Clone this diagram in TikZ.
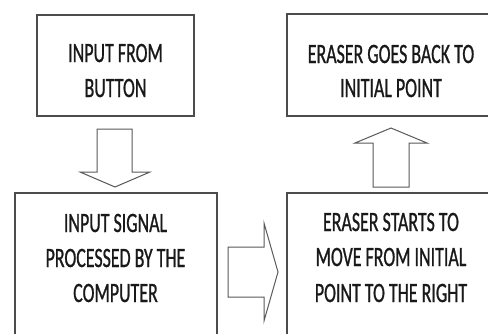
\documentclass[tikz,border=0pt]{standalone}
\usepackage{fontspec}
\setmainfont{Carlito}[FakeStretch=0.64,FakeBold=0.8]
\begin{document}
\begin{tikzpicture}[x=1pt,y=-1pt,
  box/.style={draw=black!70,line width=1.4pt,fill=white,inner sep=0pt},
  blockarrow/.style={draw=black!65,line width=1pt,fill=white,line join=miter},
  txt/.style={anchor=base,inner sep=0pt,text=black!90,font=\fontsize{28}{35}\selectfont}]
\useasboundingbox (0,0) rectangle (488,333);
\clip (0,0) rectangle (488,333);
\fill[white] (0,0) rectangle (488,333);
% boxes
\node[box,minimum width=157pt,minimum height=101pt] (b1) at (115.5,65.5) {};
\node[box,minimum width=202pt,minimum height=160pt] (b2) at (116,273) {};
\node[box,minimum width=230pt,minimum height=102pt] (b3) at (402,65) {};
\node[box,minimum width=230pt,minimum height=160pt] (b4) at (402,273) {};
% texts
\node[txt] (t1a) at (115.5,62) {INPUT FROM};
\node[txt] (t1b) at (115.5,97) {BUTTON};
\node[txt] (t2a) at (115.5,232) {INPUT SIGNAL};
\node[txt] (t2b) at (115.5,267) {PROCESSED BY THE};
\node[txt] (t2c) at (115.5,302) {COMPUTER};
\node[txt] (t3a) at (391,63) {ERASER GOES BACK TO};
\node[txt] (t3b) at (391,97) {INITIAL POINT};
\node[txt] (t4a) at (391,231) {ERASER STARTS TO};
\node[txt] (t4b) at (391,266) {MOVE FROM INITIAL};
\node[txt] (t4c) at (391,302) {POINT TO THE RIGHT};
% block arrows
\draw[blockarrow] (97,129) -- (132,129) -- (132,172) -- (150,172) -- (115,187)
  -- (80,172) -- (97,172) -- cycle;
\draw[blockarrow] (228,247) -- (264,247) -- (264,223) -- (278,272) -- (264,321)
  -- (264,297) -- (228,297) -- cycle;
\draw[blockarrow] (373,187) -- (373,143) -- (355,143) -- (391,128) -- (427,143)
  -- (409,143) -- (409,187) -- cycle;
\end{tikzpicture}
\end{document}
